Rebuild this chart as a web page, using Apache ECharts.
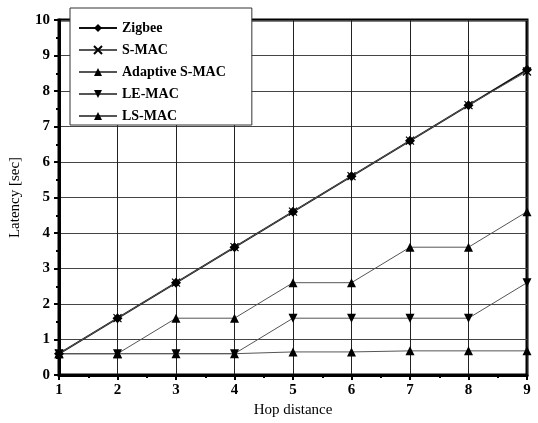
<!DOCTYPE html>
<html>
<head>
<meta charset="utf-8">
<script src="https://cdn.jsdelivr.net/npm/echarts@6/dist/echarts.min.js"></script>
<style>html,body{margin:0;padding:0;background:#fff}#c{width:538px;height:423px}</style>
</head>
<body>
<div id="c"></div>
<script>
var hops = [1, 2, 3, 4, 5, 6, 7, 8, 9];
var zigbee = [0.6, 1.6, 2.6, 3.6, 4.6, 5.6, 6.6, 7.6, 8.6];
var smac = [0.6, 1.6, 2.6, 3.6, 4.6, 5.6, 6.6, 7.6, 8.55];
var adaptiveSmac = [0.6, 0.6, 1.6, 1.6, 2.6, 2.6, 3.6, 3.6, 4.6];
var leMac = [0.6, 0.6, 0.6, 0.6, 1.6, 1.6, 1.6, 1.6, 2.6];
var lsMac = [0.6, 0.6, 0.6, 0.6, 0.65, 0.65, 0.68, 0.68, 0.68];
var yTicks = [0, 1, 2, 3, 4, 5, 6, 7, 8, 9, 10];

function pairs(v) { return hops.map(function (h, i) { return [h, v[i]]; }); }
var font = '"Liberation Serif", "DejaVu Serif", serif';

var chart = echarts.init(document.getElementById('c'));
function mk(name, data, symbol, size, width, color, itemStyle) {
  return {
    name: name, type: 'line', data: pairs(data), symbol: symbol, symbolSize: size,
    showAllSymbol: true,
    itemStyle: itemStyle || { color: '#000' },
    lineStyle: { color: color, width: width },
    z: 5
  };
}
chart.setOption({
  animation: false,
  backgroundColor: '#fff',
  grid: { left: 59, right: 11, top: 20, bottom: 48, show: true, borderColor: '#000', borderWidth: 3 },
  legend: {
    orient: 'vertical', left: 70, top: 8,
    backgroundColor: '#fff', borderColor: '#333', borderWidth: 1,
    padding: [13, 26, 2, 8], itemGap: 8, itemWidth: 38, itemHeight: 10,
    textStyle: { fontFamily: font, fontSize: 14, fontWeight: 'bold', color: '#000' },
    data: ['Zigbee', 'S-MAC', 'Adaptive S-MAC', 'LE-MAC', 'LS-MAC']
  },
  xAxis: {
    type: 'value', min: 1, max: 9, interval: 1,
    name: 'Hop distance', nameLocation: 'middle', nameGap: 28,
    nameTextStyle: { fontFamily: font, fontSize: 15, color: '#000' },
    axisLine: { lineStyle: { color: '#000', width: 3 } },
    axisTick: { length: 5, lineStyle: { color: '#000', width: 2 } },
    minorTick: { show: true, splitNumber: 2, length: 3, lineStyle: { color: '#000', width: 2 } },
    axisLabel: { fontFamily: font, fontSize: 15, fontWeight: 'bold', color: '#000', margin: 8 },
    splitLine: { show: true, lineStyle: { color: '#222', width: 1 } }
  },
  yAxis: {
    type: 'value', min: 0, max: 10, interval: 1,
    name: 'Latency [sec]', nameLocation: 'middle', nameGap: 36,
    nameTextStyle: { fontFamily: font, fontSize: 15, color: '#000' },
    axisLine: { show: true, lineStyle: { color: '#000', width: 3 } },
    axisTick: { show: true, length: 5, lineStyle: { color: '#000', width: 2 } },
    minorTick: { show: true, splitNumber: 2, length: 3, lineStyle: { color: '#000', width: 2 } },
    axisLabel: { fontFamily: font, fontSize: 15, fontWeight: 'bold', color: '#000', margin: 9,
      formatter: function (v) { return yTicks.indexOf(v) >= 0 ? String(v) : ''; } },
    splitLine: { show: true, lineStyle: { color: '#444', width: 1 } }
  },
  series: [
    mk('Zigbee', zigbee, 'diamond', 10, 1.8, '#111'),
    mk('S-MAC', smac, 'path://M0,0 L10,10 M10,0 L0,10', 8, 1, '#555',
       { color: 'none', borderColor: '#000', borderWidth: 1.2 }),
    mk('Adaptive S-MAC', adaptiveSmac, 'triangle', 9, 1, '#555'),
    mk('LE-MAC', leMac, 'path://M0,0 L10,0 L5,10 Z', 9, 1, '#555'),
    mk('LS-MAC', lsMac, 'triangle', 9, 1, '#555')
  ]
});
</script>
</body>
</html>
